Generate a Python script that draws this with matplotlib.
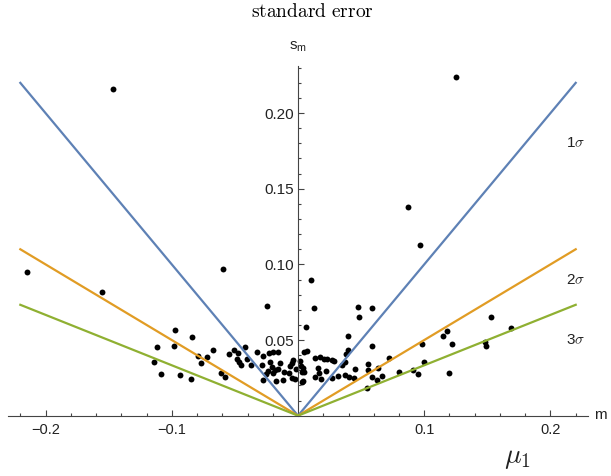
import numpy as np
import matplotlib
matplotlib.use('Agg')
from matplotlib import pyplot as plt
from matplotlib.ticker import FixedLocator

plt.rcParams['font.family'] = ['Liberation Sans', 'DejaVu Sans']
plt.rcParams['mathtext.fontset'] = 'cm'

# measured means (x) against their standard errors (y)
mu = [-0.1466, 0.1252, -0.2150, -0.1555, -0.0592, -0.0248, 0.0101, 0.0127,
      0.0869, 0.0967, 0.0478, 0.0589, 0.0481, 0.1529, 0.0061, 0.0399,
      0.0584, 0.0399, 0.0378, 0.0048, 0.0074, 0.0135, 0.0174, 0.0206,
      0.0232, 0.0267, 0.0288, 0.0372, 0.0016, 0.0719, 0.0552, 0.0980,
      0.1147, 0.1183, 0.1220, 0.1688, 0.0998, 0.0037, 0.0048, 0.0037,
      0.0161, 0.0166, 0.0135, 0.0180, 0.0222, 0.0269, 0.0315, 0.0351,
      0.0375, 0.0404, 0.0452, 0.0446, 0.0552, 0.0584, 0.0549, 0.0628,
      0.0663, 0.0800, 0.0909, 0.0953, 0.1194, 0.1482, 0.1487, 0.0634,
      -0.0975, -0.0842, -0.1120, -0.0980, -0.1143, -0.1088, -0.0935, -0.0850,
      -0.0792, -0.0765, -0.0719, -0.0677, -0.0610, -0.0582, -0.0547, -0.0510,
      -0.0474, -0.0485, -0.0468, -0.0452, -0.0418, -0.0406, -0.0375, -0.0327,
      -0.0280, -0.0285, -0.0275, -0.0227, -0.0202, -0.0156, -0.0254, -0.0235,
      -0.0222, -0.0206, -0.0196, -0.0182, -0.0178, -0.0156, -0.0139, -0.0119,
      -0.0109, -0.0069, -0.0063, -0.0050, -0.0037, -0.0048, -0.0024, -0.0016,
      0.0021, 0.0029, 0.0034]
sm = [0.2159, 0.2239, 0.0950, 0.0816, 0.0972, 0.0725, 0.0897, 0.0710,
      0.1377, 0.1130, 0.0716, 0.0714, 0.0652, 0.0652, 0.0584, 0.0527,
      0.0463, 0.0434, 0.0408, 0.0423, 0.0430, 0.0383, 0.0386, 0.0377,
      0.0373, 0.0368, 0.0362, 0.0357, 0.0362, 0.0383, 0.0342, 0.0472,
      0.0527, 0.0560, 0.0472, 0.0580, 0.0357, 0.0317, 0.0291, 0.0229,
      0.0317, 0.0284, 0.0258, 0.0245, 0.0297, 0.0247, 0.0262, 0.0333,
      0.0267, 0.0256, 0.0307, 0.0247, 0.0302, 0.0258, 0.0185, 0.0236,
      0.0264, 0.0291, 0.0300, 0.0276, 0.0280, 0.0489, 0.0461, 0.0317,
      0.0564, 0.0520, 0.0452, 0.0461, 0.0357, 0.0276, 0.0269, 0.0245,
      0.0396, 0.0345, 0.0389, 0.0434, 0.0279, 0.0259, 0.0406, 0.0433,
      0.0414, 0.0378, 0.0356, 0.0334, 0.0456, 0.0373, 0.0333, 0.0423,
      0.0395, 0.0332, 0.0236, 0.0412, 0.0418, 0.0423, 0.0276, 0.0297,
      0.0352, 0.0325, 0.0280, 0.0302, 0.0231, 0.0307, 0.0345, 0.0233,
      0.0287, 0.0280, 0.0328, 0.0346, 0.0368, 0.0252, 0.0243, 0.0307,
      0.0328, 0.0291, 0.0225]

# sigma boundaries |m| = k * s
line_x = [-0.22, 0.0, 0.22]
sigma1 = [0.22, 0.0, 0.22]
sigma2 = [0.11, 0.0, 0.11]
sigma3 = [0.0733, 0.0, 0.0733]
sigma_labels = ['1$\\sigma$', '2$\\sigma$', '3$\\sigma$']
sigma_label_y = [0.180, 0.0897, 0.050]

xticks = [-0.2, -0.1, 0.1, 0.2]
xtick_labels = ['\u22120.2', '\u22120.1', '0.1', '0.2']
yticks = [0.05, 0.10, 0.15, 0.20]
ytick_labels = ['0.05', '0.10', '0.15', '0.20']

fig = plt.figure(figsize=(6.11, 4.76), dpi=100)
ax = fig.add_axes([0.0126, 0.1267, 0.9503, 0.7342])

ax.scatter(mu, sm, s=18, color='black', linewidths=0, zorder=2)
ax.plot(line_x, sigma1, color='#5E81B5', lw=1.6, zorder=3)
ax.plot(line_x, sigma2, color='#E19C24', lw=1.6, zorder=3)
ax.plot(line_x, sigma3, color='#8FB032', lw=1.6, zorder=3)

ax.set_xlim(-0.23, 0.23)
ax.set_ylim(0, 0.231)

for side in ['top', 'right']:
    ax.spines[side].set_visible(False)
ax.spines['left'].set_position(('data', 0))
for side in ['left', 'bottom']:
    ax.spines[side].set_color('#444444')
    ax.spines[side].set_linewidth(0.8)

ax.set_xticks(xticks, xtick_labels)
ax.set_yticks(yticks, ytick_labels)
ax.xaxis.set_minor_locator(FixedLocator(np.arange(-0.22, 0.2201, 0.02)))
ax.yaxis.set_minor_locator(FixedLocator(np.arange(0.01, 0.2301, 0.01)))
ax.tick_params(which='both', direction='in', color='#444444', width=0.8)
ax.tick_params(which='major', length=4.5)
ax.tick_params(which='minor', length=2.5)
ax.tick_params(axis='x', which='major', labelsize=10.5, pad=5, labelcolor='#222222')
ax.tick_params(axis='y', which='major', labelsize=11, pad=3, labelcolor='#222222')

for lbl, y in zip(sigma_labels, sigma_label_y):
    ax.text(0.2195, y, lbl, fontsize=11, ha='center', va='center', color='#222222')

fig.text(312 / 611, 1 - 12 / 476, r'$\mathrm{standard\ error}$', fontsize=14,
         ha='center', va='center')
fig.text(298 / 611, 1 - 47 / 476, r'$\mathregular{s_m}$', fontsize=11,
         ha='center', va='center', color='#222222')
fig.text(594 / 611, 1 - 415 / 476, 'm', fontsize=11, ha='left', va='center',
         color='#222222')
fig.text(517 / 611, 1 - 458 / 476, r'$\mu_1$', fontsize=20, ha='center',
         va='center', color='#222222')

fig.savefig('out.png', dpi=100)
